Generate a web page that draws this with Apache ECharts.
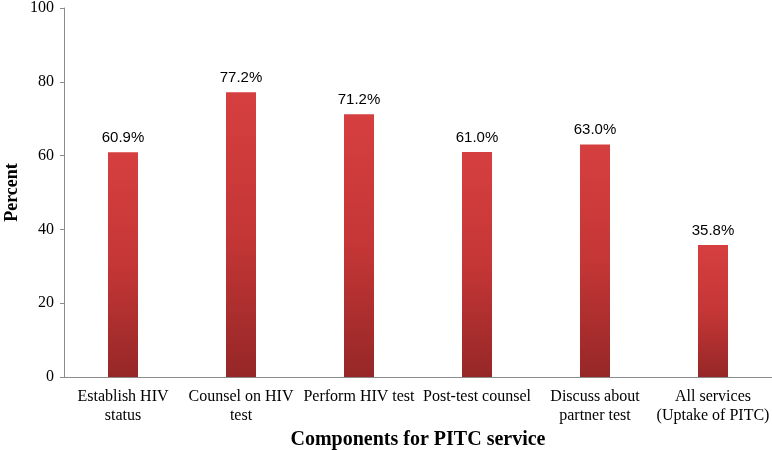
<!DOCTYPE html>
<html>
<head>
<meta charset="utf-8">
<script src="https://cdn.jsdelivr.net/npm/echarts@6/dist/echarts.min.js"></script>
<style>
  html, body { margin: 0; padding: 0; background: #fff; }
  #chart { width: 772px; height: 450px; }
</style>
</head>
<body>
<div id="chart"></div>
<script>
// categories and values
const categories = [
  'Establish HIV\nstatus',
  'Counsel on HIV\ntest',
  'Perform HIV test',
  'Post-test counsel',
  'Discuss about\npartner test',
  'All services\n(Uptake of PITC)'
];
const percents = [60.9, 77.2, 71.2, 61.0, 63.0, 35.8];
const yTicks = [0, 20, 40, 60, 80, 100];

const serif = '"Liberation Serif", "DejaVu Serif", serif';

const chart = echarts.init(document.getElementById('chart'));

const option = {
  animation: false,
  grid: { left: 64, right: 0, top: 8, bottom: 73, containLabel: false, outerBoundsMode: 'none' },
  xAxis: {
    type: 'category',
    data: categories,
    name: 'Components for PITC service',
    nameLocation: 'middle',
    nameGap: 50,
    nameTextStyle: { fontFamily: serif, fontSize: 20, fontWeight: 'bold', color: '#000' },
    axisLine: { lineStyle: { color: '#8c8c8c', width: 1 } },
    axisTick: { show: false },
    axisLabel: {
      interval: 0,
      fontFamily: serif,
      fontSize: 16,
      color: '#000',
      lineHeight: 19,
      margin: 10
    }
  },
  yAxis: {
    type: 'value',
    min: yTicks[0],
    max: yTicks[yTicks.length - 1],
    interval: 20,
    name: 'Percent',
    nameLocation: 'middle',
    nameGap: 43,
    nameMoveOverlap: false,
    nameRotate: 90,
    nameTextStyle: { fontFamily: serif, fontSize: 18, fontWeight: 'bold', color: '#000' },
    splitLine: { show: false },
    axisLine: { show: true, lineStyle: { color: '#8c8c8c', width: 1 } },
    axisTick: { show: true, length: 4, lineStyle: { color: '#8c8c8c' } },
    axisLabel: { fontFamily: serif, fontSize: 16, color: '#000', margin: 10 }
  },
  series: [
    {
      type: 'bar',
      data: percents,
      barWidth: 30,
      itemStyle: {
        color: new echarts.graphic.LinearGradient(0, 0, 0, 1, [
          { offset: 0, color: '#d63f3f' },
          { offset: 0.5, color: '#c53636' },
          { offset: 1, color: '#962727' }
        ])
      },
      label: {
        show: true,
        position: 'top',
        distance: 7,
        formatter: p => p.value.toFixed(1) + '%',
        fontFamily: '"Liberation Sans", Arial, sans-serif',
        fontSize: 15,
        color: '#000'
      }
    }
  ]
};

chart.setOption(option);
</script>
</body>
</html>
